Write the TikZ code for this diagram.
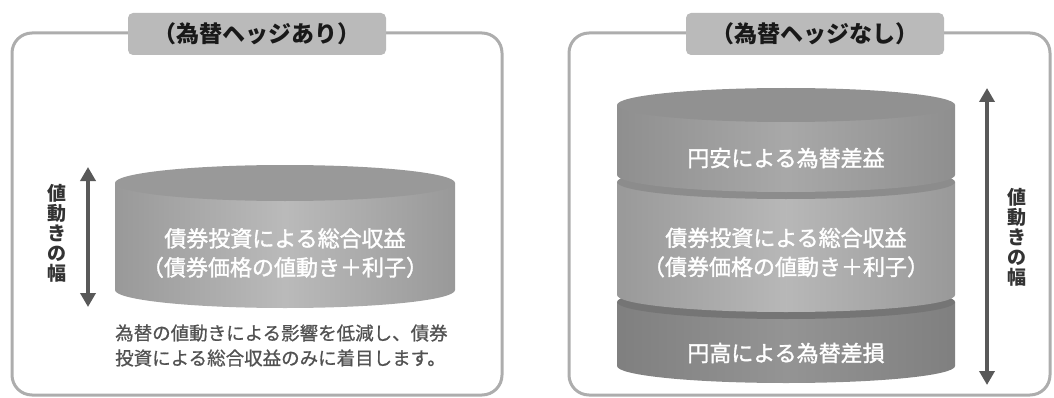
\documentclass[tikz,border=0pt]{standalone}
\usepackage{fontspec}
\setmainfont{Noto Sans CJK JP}
\newfontfamily\jpmed{Noto Sans CJK JP}[FakeBold=1.5]
\newfontfamily\jpsemi{Noto Sans CJK JP}[FakeBold=0.8]
\usetikzlibrary{arrows.meta}

\begin{document}
\begin{tikzpicture}[x=1pt,y=1pt,
  panel/.style={draw=black!32,line width=3pt,rounded corners=20pt},
  tab/.style={fill=black!27,rounded corners=5pt,minimum width=258pt,minimum height=42pt,inner sep=0pt,text=black!90,font=\fontsize{23}{26}\selectfont\bfseries},
  drumtext/.style={text=white,align=center,inner sep=0pt,font=\fontsize{22}{29}\selectfont\jpmed},
  sidetext/.style={text=black!80,align=center,inner sep=0pt,font=\fontsize{19}{20}\selectfont\bfseries},
  note/.style={text=black!68,align=left,inner sep=0pt,font=\fontsize{18.5}{25}\selectfont\jpsemi},
  spanarrow/.style={draw=black!65,line width=4pt,{Triangle[width=15pt,length=14pt]}-{Triangle[width=15pt,length=14pt]}}]
		\useasboundingbox (0,0) rectangle (1054,397);
		\draw[panel] (12,2) rectangle (502,364);
		\draw[panel] (569,2) rectangle (1050,364);
		\node[tab] (hedge) at (257,363) {（為替ヘッジあり）};
		\node[tab] (nohedge) at (815,363) {（為替ヘッジなし）};
		\path[left color=black!40,right color=black!40,middle color=black!27] (115,214) -- (115,107) arc[start angle=180,end angle=360,x radius=170,y radius=18] -- (455,214) -- cycle;
		\fill[black!40] (285,214) ellipse [x radius=170,y radius=18];
		\node[drumtext] (core) at (285,144) {債券投資による総合収益\\（債券価格の値動き＋利子）};
		\coordinate (lt) at (88,230);
		\coordinate (lb) at (88,90);
		\draw[spanarrow] (lt) -- (lb);
		\node[sidetext] (lwidth) at (57,164) {値\\動\\き\\の\\幅};
		\node[note,anchor=west] (memo) at (115,51.5) {為替の値動きによる影響を低減し、債券\\投資による総合収益のみに着目します。};
		\path[left color=black!50,right color=black!50,middle color=black!42] (617,95) -- (617,31) arc[start angle=180,end angle=360,x radius=169,y radius=17] -- (955,95) -- cycle;
		\fill[black!54] (786,95) ellipse [x radius=169,y radius=17];
		\path[left color=black!40,right color=black!40,middle color=black!28] (617,215) -- (617,102) arc[start angle=180,end angle=360,x radius=169,y radius=17] -- (955,215) -- cycle;
		\fill[black!45] (786,215) ellipse [x radius=169,y radius=17];
		\path[left color=black!44,right color=black!44,middle color=black!34] (617,292) -- (617,222) arc[start angle=180,end angle=360,x radius=169,y radius=17] -- (955,292) -- cycle;
		\fill[black!43] (786,292) ellipse [x radius=169,y radius=17];
		\node[drumtext] (gain) at (786,239) {円安による為替差益};
		\node[drumtext] (bond) at (786,144.5) {債券投資による総合収益\\（債券価格の値動き＋利子）};
		\node[drumtext] (loss) at (786,44) {円高による為替差損};
		\coordinate (rt) at (987,309);
		\coordinate (rb) at (987,12);
		\draw[spanarrow] (rt) -- (rb);
		\node[sidetext] (rwidth) at (1017,160) {値\\動\\き\\の\\幅};
\end{tikzpicture}
\end{document}
